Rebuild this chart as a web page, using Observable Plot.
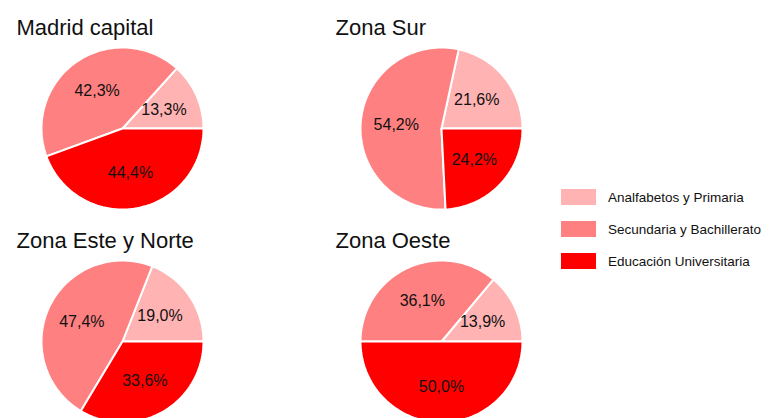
<!DOCTYPE html>
<html><head><meta charset="utf-8">
<script src="https://cdn.jsdelivr.net/npm/d3@7"></script>
<script src="https://cdn.jsdelivr.net/npm/@observablehq/plot@0.6"></script>
<style>
body{margin:0;background:#fff;font-family:"Liberation Sans",Arial,sans-serif;}
#wrap{position:relative;width:771px;height:418px;overflow:hidden;}
#legend{position:absolute;left:561px;top:189px;}
.item{display:flex;align-items:center;height:16px;margin-bottom:16px;font-size:13.5px;color:#111;white-space:nowrap;}
.sw{width:35px;height:16px;margin-right:12px;box-sizing:border-box;}
</style></head><body><div id="wrap"></div>
<script>
const zones = ["Madrid capital", "Zona Sur", "Zona Este y Norte", "Zona Oeste"];
const levels = ["Analfabetos y Primaria", "Secundaria y Bachillerato", "Educación Universitaria"];
const primaria = [13.3, 21.6, 19.0, 13.9];
const secundaria = [42.3, 54.2, 47.4, 36.1];
const universitaria = [44.4, 24.2, 33.6, 50.0];
const colors = ["#ffb3b3", "#ff8080", "#ff0000"];

const R = 81;          // pie radius in px
const LABEL_R = 0.56;  // label radius factor

const wedgePts = [];
const labels = [];
const titles = [];
zones.forEach((zone, i) => {
  const col = i % 2, row = Math.floor(i / 2);
  titles.push({zone, col, row});
  const vals = [primaria[i], secundaria[i], universitaria[i]];
  const total = d3.sum(vals);
  let a = 0;
  vals.forEach((v, j) => {
    const a0 = a, a1 = a + v / total * 2 * Math.PI;
    a = a1;
    const key = zone + "|" + j;
    const n = Math.max(2, Math.ceil((a1 - a0) / (Math.PI / 90)));
    wedgePts.push({key, level: levels[j], col, row, x: 0, y: 0});
    for (let k = 0; k <= n; k++) {
      const t = a0 + (a1 - a0) * k / n;
      wedgePts.push({key, level: levels[j], col, row, x: R * Math.cos(t), y: R * Math.sin(t)});
    }
    wedgePts.push({key, level: levels[j], col, row, x: 0, y: 0});
    const m = (a0 + a1) / 2;
    labels.push({col, row, x: LABEL_R * R * Math.cos(m), y: LABEL_R * R * Math.sin(m),
      text: v.toFixed(1).replace(".", ",") + "%"});
  });
});

const chart = Plot.plot({
  width: 771, height: 418,
  marginLeft: 16, marginRight: 224, marginTop: 10, marginBottom: 0,
  x: {domain: [-106, 106], axis: null},
  y: {domain: [-77, 118], axis: null},
  fx: {domain: [0, 1], axis: null, paddingInner: 107 / 319, paddingOuter: 0, round: false},
  fy: {domain: [0, 1], axis: null, paddingInner: 18 / 213, paddingOuter: 0, round: false},
  color: {domain: levels, range: colors},
  style: {fontFamily: "'Liberation Sans', Arial, sans-serif", background: "white"},
  marks: [
    Plot.line(wedgePts, {x: "x", y: "y", z: "key", fill: "level", stroke: "white", strokeWidth: 2,
      fx: "col", fy: "row", curve: "linear"}),
    Plot.text(labels, {x: "x", y: "y", text: "text", fx: "col", fy: "row", fontSize: 16, fill: "#111"}),
    Plot.text(titles, {text: "zone", fx: "col", fy: "row", frameAnchor: "top-left", dy: 24,
      lineAnchor: "bottom", textAnchor: "start", fontSize: 22, fill: "#111"})
  ]
});
const wrap = document.getElementById("wrap");
wrap.appendChild(chart);

const legend = document.createElement("div");
legend.id = "legend";
levels.forEach((lv, j) => {
  const it = document.createElement("div");
  it.className = "item";
  const sw = document.createElement("div");
  sw.className = "sw";
  sw.style.background = colors[j];
  const tx = document.createElement("span");
  tx.textContent = lv;
  it.appendChild(sw); it.appendChild(tx);
  legend.appendChild(it);
});
wrap.appendChild(legend);
</script></body></html>
